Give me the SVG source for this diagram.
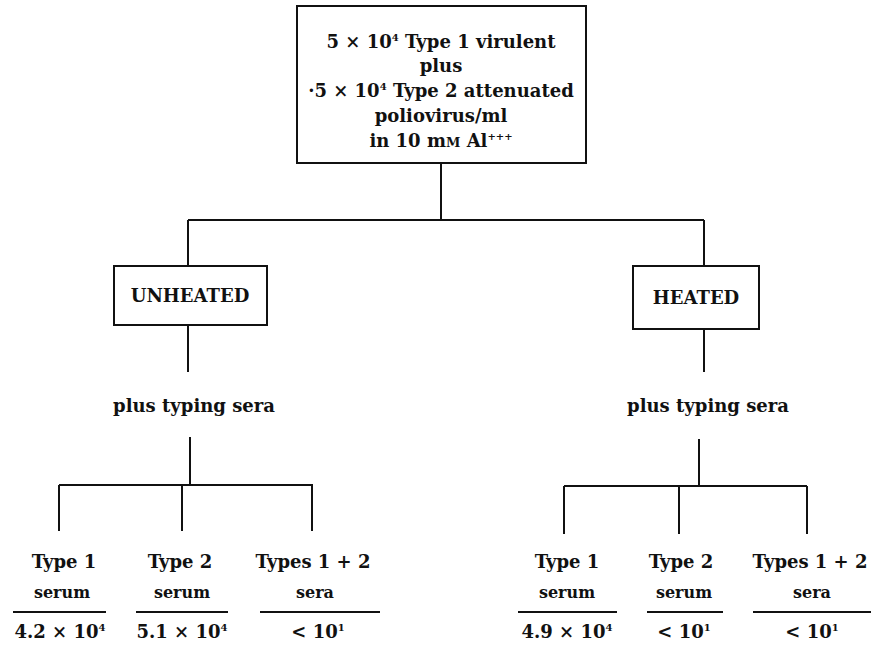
<svg xmlns="http://www.w3.org/2000/svg" width="871" height="645" viewBox="0 0 871 645">
<style>
text{font-family:"DejaVu Serif","Liberation Serif",serif;font-weight:bold;fill:#111;text-anchor:middle}
.t{font-size:18px}
.s{font-size:16px}
.sup{font-size:10px}
.box{fill:none;stroke:#111;stroke-width:2}
.c{fill:none;stroke:#111;stroke-width:2}
</style>
<rect width="871" height="645" fill="#fff"/>
<g id="connectors">
<path class="c" d="M441 163V220M188 220H704M188 220V266M704 220V266"/>
<path class="c" d="M188 325V372M704 329V372"/>
<path class="c" d="M190 437V485M59 485H313M59 485V531M182 485V531M312 485V531"/>
<path class="c" d="M699 439V486M564 486H807M564 486V534M679 486V534M807 486V534"/>
<path class="c" d="M13 612H106M136 612H228M260 612H380M518 612H617M647 612H723M753 612H871"/>
</g>
<g id="source">
<rect class="box" x="297" y="6" width="289" height="157"/>
<text class="t" x="441" y="48">5 × 10<tspan class="sup" dy="-7">4</tspan><tspan dy="7"> Type 1 virulent</tspan></text>
<text class="t" x="441" y="72">plus</text>
<text class="t" x="441" y="97">·5 × 10<tspan class="sup" dy="-7">4</tspan><tspan dy="7"> Type 2 attenuated</tspan></text>
<text class="t" x="441" y="122">poliovirus/ml</text>
<text class="t" x="441" y="147">in 10 m<tspan font-size="13px">M</tspan> Al<tspan class="sup" dy="-7">+++</tspan></text>
</g>
<g id="unheated">
<rect class="box" x="114" y="266" width="153" height="59"/>
<text class="t" x="190" y="302">UNHEATED</text>
</g>
<g id="heated">
<rect class="box" x="633" y="266" width="126" height="63"/>
<text class="t" x="696" y="304">HEATED</text>
</g>
<g id="sera-left"><text class="t" x="194" y="412">plus typing sera</text></g>
<g id="sera-right"><text class="t" x="708" y="412">plus typing sera</text></g>
<g id="l1"><text class="t" x="64" y="568">Type 1</text><text class="s" x="62" y="598">serum</text><text class="t" x="60" y="638">4.2 × 10<tspan class="sup" dy="-7">4</tspan></text></g>
<g id="l2"><text class="t" x="180" y="568">Type 2</text><text class="s" x="182" y="598">serum</text><text class="t" x="182" y="638">5.1 × 10<tspan class="sup" dy="-7">4</tspan></text></g>
<g id="l3"><text class="t" x="313" y="568">Types 1 + 2</text><text class="s" x="315" y="598">sera</text><text class="t" x="318" y="638">&lt; 10<tspan class="sup" dy="-7">1</tspan></text></g>
<g id="r1"><text class="t" x="567" y="568">Type 1</text><text class="s" x="567" y="598">serum</text><text class="t" x="567" y="638">4.9 × 10<tspan class="sup" dy="-7">4</tspan></text></g>
<g id="r2"><text class="t" x="681" y="568">Type 2</text><text class="s" x="684" y="598">serum</text><text class="t" x="684" y="638">&lt; 10<tspan class="sup" dy="-7">1</tspan></text></g>
<g id="r3"><text class="t" x="810" y="568">Types 1 + 2</text><text class="s" x="812" y="598">sera</text><text class="t" x="812" y="638">&lt; 10<tspan class="sup" dy="-7">1</tspan></text></g>
</svg>
